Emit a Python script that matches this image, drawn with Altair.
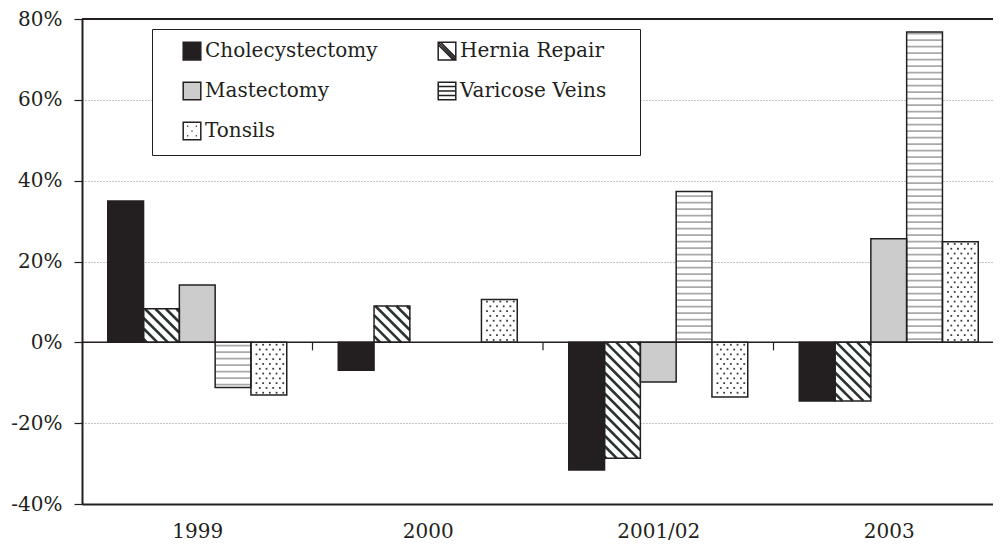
import json
import altair as alt
import pandas as pd

# ---------------- data ----------------
categories = ["1999", "2000", "2001/02", "2003"]
series = ["Cholecystectomy", "Hernia Repair", "Mastectomy", "Varicose Veins", "Tonsils"]
cholecystectomy = [35.0, -6.9, -31.6, -14.5]
hernia_repair = [8.3, 9.0, -28.7, -14.5]
mastectomy = [14.2, None, -9.8, 25.6]
varicose_veins = [-11.2, None, 37.3, 76.8]
tonsils = [-13.0, 10.6, -13.5, 24.9]
y_ticks = [-40, -20, 0, 20, 40, 60, 80]

values_by_series = [cholecystectomy, hernia_repair, mastectomy, varicose_veins, tonsils]
rows = []
for j, (s, vals) in enumerate(zip(series, values_by_series)):
    for i, (c, v) in enumerate(zip(categories, vals)):
        if v is None:
            continue
        rows.append({"category": c, "series": s, "ci": i, "sj": j, "value": v})
df = pd.DataFrame(rows)
boundaries = pd.DataFrame({"b": list(range(1, len(categories)))})
zero_df = pd.DataFrame({"z": [0]})
top_df = pd.DataFrame({"t": [y_ticks[-1]]})

# ---------------- geometry / style ----------------
W, H = 911, 485
Y_MIN, Y_MAX = y_ticks[0], y_ticks[-1]
NCAT = len(categories)
KX = 230.5                    # px per category unit (last group runs off the page)
KY = H / (Y_MAX - Y_MIN)      # px per percent
BW_PX = 35.8
BW = BW_PX / KX
INK = "#231f20"
FONT = "DejaVu Serif"

xs = alt.Scale(domain=[0, W / KX], nice=False, zero=False)
ys = alt.Scale(domain=[Y_MIN, Y_MAX], nice=False, zero=False)

x_axis = alt.Axis(
    values=[i + 0.5 for i in range(NCAT)],
    labelExpr=f"{json.dumps(categories)}[floor(datum.value)]",
    ticks=False, grid=False, domainColor=INK, domainWidth=2,
    labelFont=FONT, labelFontSize=20, labelColor=INK,
    labelPadding=33, labelBaseline="alphabetic", labelFlush=False,
)
y_axis = alt.Axis(
    values=y_ticks, labelExpr="datum.value + '%'",
    tickSize=8, tickColor=INK, tickWidth=1.2, domainColor=INK, domainWidth=2,
    labelFont=FONT, labelFontSize=20, labelColor=INK, labelPadding=12,
    grid=True, gridColor="#8a8a8a", gridDash=[1, 2], gridWidth=1,
)

base = alt.Chart(df).transform_calculate(
    x0=f"datum.ci + 0.5 + (datum.sj - {len(series) / 2})*{BW}"
).transform_calculate(
    x1=f"datum.x0 + {BW}"
).transform_calculate(
    sg="datum.value >= 0 ? 1 : -1"
)

fills = [INK, "white", "#cccccc", "white", "white"]

bars = base.mark_rect().encode(
    x=alt.X("x0:Q", scale=xs, axis=x_axis, title=None),
    x2="x1:Q",
    y=alt.Y("value:Q", scale=ys, axis=y_axis, title=None),
    y2=alt.Y2(datum=0),
    fill=alt.Fill("series:N", sort=series, scale=alt.Scale(range=fills), legend=None),
)

# horizontal lines (Varicose Veins)
STEP = 6.5 / KY
vlines = base.transform_filter(alt.datum.series == "Varicose Veins").transform_calculate(
    ys=f"sequence(datum.sg*{STEP/2}, datum.value, datum.sg*{STEP})"
).transform_flatten(["ys"]).mark_rule(color="#a9a9a9", strokeWidth=1.7).encode(
    x=alt.X("x0:Q", scale=xs, title=None), x2="x1:Q",
    y=alt.Y("ys:Q", scale=ys, title=None),
)

# dots (Tonsils)
DY = 4.8 / KY
dots = base.transform_filter(alt.datum.series == "Tonsils").transform_calculate(
    ry=f"sequence(datum.sg*{DY/2}, datum.value, datum.sg*{DY})"
).transform_calculate(
    cols="sequence(0, 5)"
).transform_flatten(["ry"]).transform_flatten(["cols"]).transform_calculate(
    odd=f"floor(abs(datum.ry)/{DY}) % 2"
).transform_filter("!(datum.odd == 1 && datum.cols == 4)").transform_calculate(
    dx=f"datum.x0 + (5.5 + datum.cols*6.7 + datum.odd*3.35)/{KX}"
).mark_square(size=3.2, color="#3a3a3a", opacity=1).encode(
    x=alt.X("dx:Q", scale=xs, title=None),
    y=alt.Y("ry:Q", scale=ys, title=None),
)

# diagonal stripes (Hernia Repair)
S = 10.5
stripes = base.transform_filter(alt.datum.series == "Hernia Repair").transform_calculate(
    T="max(datum.value, 0)"
).transform_calculate(
    B="min(datum.value, 0)"
).transform_calculate(
    Hp=f"(datum.T - datum.B) * {KY}"
).transform_calculate(
    ts=f"sequence(-{BW_PX} + 3, datum.Hp, {S})"
).transform_flatten(["ts"]).transform_calculate(
    ds="max(datum.ts, 0)"
).transform_calculate(
    de=f"min(datum.ts + {BW_PX}, datum.Hp)"
).transform_filter("datum.de - datum.ds > 0.5").transform_calculate(
    xa=f"datum.x0 + (datum.ds - datum.ts)/{KX}"
).transform_calculate(
    ya=f"datum.T - datum.ds/{KY}"
).transform_calculate(
    xb=f"datum.x0 + (datum.de - datum.ts)/{KX}"
).transform_calculate(
    yb=f"datum.T - datum.de/{KY}"
).mark_rule(color="#2b3530", strokeWidth=2.6).encode(
    x=alt.X("xa:Q", scale=xs, title=None), x2="xb:Q",
    y=alt.Y("ya:Q", scale=ys, title=None), y2="yb:Q",
)

outline = base.mark_rect(fillOpacity=0, stroke=INK, strokeWidth=1.5).encode(
    x=alt.X("x0:Q", scale=xs, title=None), x2="x1:Q",
    y=alt.Y("value:Q", scale=ys, title=None), y2=alt.Y2(datum=0),
)

zero_line = alt.Chart(zero_df).mark_rule(color=INK, strokeWidth=1.5).encode(
    y=alt.Y("z:Q", scale=ys, title=None)
)
top_line = alt.Chart(top_df).mark_rule(color=INK, strokeWidth=2).encode(
    y=alt.Y("t:Q", scale=ys, title=None)
)
cat_ticks = alt.Chart(boundaries).mark_rule(color=INK, strokeWidth=1.2).encode(
    x=alt.X("b:Q", scale=xs, title=None),
    y=alt.Y(datum=0, scale=ys, title=None),
    y2=alt.Y2(datum=-8 / KY),
)

# patterned legend: colour + custom shape paths + stroke, from a layer with no drawn marks
legend_fills = [INK, "white", "#cccccc", "white", "white"]
SQ = "M-1,-1H1V1H-1Z"
legend_paths = [
    SQ,
    SQ + " M-1,-1L1,1 M-0.72,-1L1,0.72 M-1,-0.72L0.72,1",
    SQ,
    SQ + " M-1,-0.5H1 M-1,0H1 M-1,0.5H1",
    SQ + " M-0.55,-0.55h0.12 M0.43,-0.55h0.12 M-0.06,0h0.12 M-0.55,0.55h0.12 M0.43,0.55h0.12",
]
leg = alt.Legend(
    title=" ", titleOrient="right", titlePadding=22,
    orient="none", legendX=70, legendY=10, columns=2, direction="horizontal",
    gridAlign="all", columnPadding=41, rowPadding=16, padding=12,
    symbolOffset=18, labelOffset=3, labelLimit=400,
    labelFont=FONT, labelFontSize=20, labelColor=INK, symbolSize=310,
    symbolStrokeWidth=1.5, strokeColor=INK, fillColor="white", symbolOpacity=1,
)
legend_layer = alt.Chart(df).transform_filter("false").mark_point(filled=True).encode(
    color=alt.Color("series:N", scale=alt.Scale(domain=series, range=legend_fills), legend=leg),
    shape=alt.Shape("series:N", scale=alt.Scale(domain=series, range=legend_paths), legend=leg),
    stroke=alt.Stroke("series:N", scale=alt.Scale(domain=series, range=[INK] * len(series)), legend=leg),
)

chart = alt.layer(
    bars, vlines, dots, stripes, outline, zero_line, top_line, cat_ticks, legend_layer
).properties(
    width=W, height=H,
    autosize=alt.AutoSizeParams(type="none"),
    padding={"left": 74, "top": 11, "right": 0, "bottom": 38},
).configure(
    font=FONT, background="white"
).configure_view(
    strokeWidth=0
)

chart.save("out.html", embed_options={"renderer": "svg", "actions": False})
